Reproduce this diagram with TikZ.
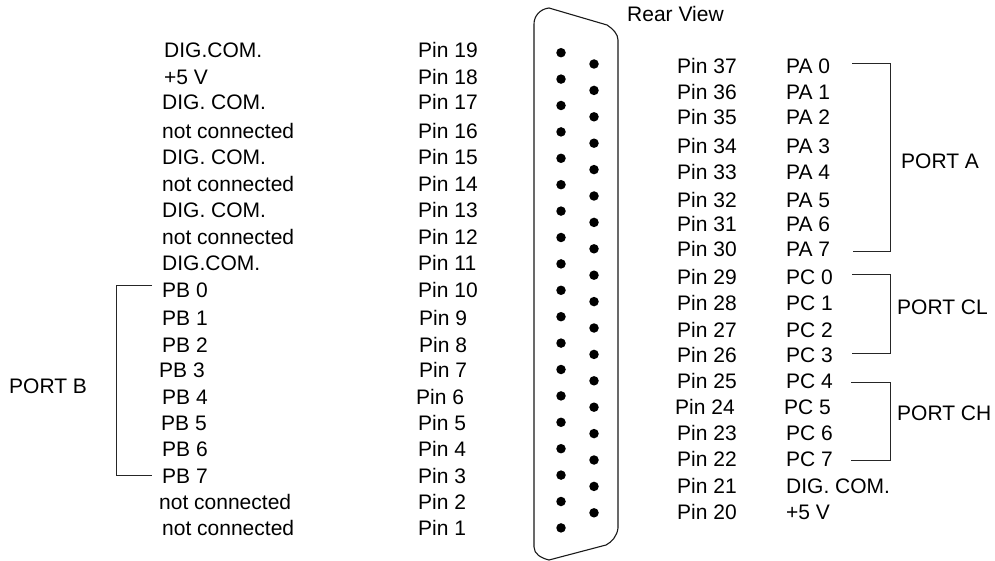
\documentclass[tikz,border=0pt]{standalone}
\usepackage{fontspec}
\setmainfont{Liberation Sans}
\begin{document}
\begin{tikzpicture}[x=1pt,y=-1pt,
  lbl/.style={anchor=base west,inner sep=0pt,font=\fontsize{21}{24}\selectfont},
  pinhole/.style={fill=black,circle,inner sep=0pt,minimum size=9.5pt},
  brk/.style={line width=0.9pt,draw=black!85},
  shell/.style={line width=1.1pt,draw=black!90}]
\useasboundingbox (0,0) rectangle (995,561);
% connector shell
\draw[shell] (534,24) .. controls (534,16) and (540,9) .. (549,8) -- (607,25)
  .. controls (613,29) and (618,34) .. (618,40) -- (618,528)
  .. controls (617,536) and (612,542) .. (606,545) -- (549,560)
  .. controls (541,558) and (534,554) .. (534,547) -- cycle;
\foreach \k in {0,...,18} \node[pinhole] (hl\k) at (561,52.7+26.4*\k) {};
\foreach \k in {0,...,17} \node[pinhole] (hr\k) at (594,64+26.4*\k) {};
\node[lbl] (rear) at (627,22) {Rear View};
% left signal names
\foreach \t/\x/\y [count=\i] in {DIG.COM./164/51, +5 V/164/78, DIG. COM./162/103,
  not connected/162/132, DIG. COM./162/158, not connected/162/185, DIG. COM./162/211,
  not connected/162/238, DIG.COM./162/263, PB 0/162/290, PB 1/162/318, PB 2/162/345,
  PB 3/159/370, PB 4/162/397, PB 5/161/423, PB 6/162/449, PB 7/162/476,
  not connected/159/502, not connected/162/528}
  \node[lbl] (ls\i) at (\x,\y+7) {\t};
% left pin numbers
\foreach \n/\x/\y in {19/418/51, 18/418/78, 17/418/103, 16/418/132, 15/418/158,
  14/418/185, 13/418/211, 12/418/238, 11/418/263, 10/418/290, 9/419/318, 8/419/345,
  7/419/370, 6/416/397, 5/418/423, 4/418/449, 3/418/476, 2/418/502, 1/418/528}
  \node[lbl] (pin\n) at (\x,\y+7) {Pin \n};
% right pin numbers and names
\foreach \n/\x/\y/\t/\sx in {37/677/67/PA 0/786, 36/677/93/PA 1/786, 35/677/118/PA 2/786,
  34/677/147/PA 3/786, 33/677/173/PA 4/786, 32/677/201/PA 5/786, 31/677/225/PA 6/786,
  30/677/250/PA 7/786, 29/677/277/PC 0/786, 28/677/303/PC 1/786, 27/677/330/PC 2/786,
  26/677/355/PC 3/786, 25/677/381/PC 4/786, 24/675/407/PC 5/784, 23/677/433/PC 6/786,
  22/677/459/PC 7/786, 21/677/486/DIG. COM./786, 20/677/512/+5 V/786}
  {\node[lbl] (pin\n) at (\x,\y+7) {Pin \n};
   \node[lbl] (rs\n) at (\sx,\y+7) {\t};}
% port brackets
\coordinate (a1) at (852,63); \coordinate (a2) at (853,251);
\coordinate (cl1) at (852,274); \coordinate (cl2) at (852,353);
\coordinate (ch1) at (851,382); \coordinate (ch2) at (851,460);
\coordinate (b1) at (152,285); \coordinate (b2) at (152,475);
\draw[brk] (a1) -- (890,63) -- (890,251) -- (a2);
\draw[brk] (cl1) -- (890,274) -- (890,353) -- (cl2);
\draw[brk] (ch1) -- (890,382) -- (890,460) -- (ch2);
\draw[brk] (b1) -- (116,285) -- (116,475) -- (b2);
\node[lbl] (porta) at (901,169) {PORT A};
\node[lbl] (portcl) at (897,314) {PORT CL};
\node[lbl] (portch) at (897,420) {PORT CH};
\node[lbl] (portb) at (9,393) {PORT B};
\end{tikzpicture}
\end{document}
